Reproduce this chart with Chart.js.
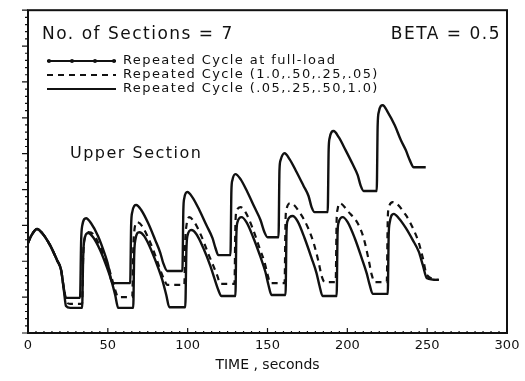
<!DOCTYPE html>
<html>
<head>
<meta charset="utf-8">
<script src="https://cdn.jsdelivr.net/npm/chart.js@4.4.1/dist/chart.umd.min.js"></script>
<style>
  html, body { margin: 0; padding: 0; background: #fff; }
  #wrap { width: 525px; height: 381px; }
</style>
</head>
<body>
<div id="wrap"><canvas id="chart"></canvas></div>
<script>
// time (s), value (y axis: 9 major divisions, labels cut off in the scan)
const fullLoad = [
  [0,2.51],[1.9,2.70],[5.6,2.90],[8.8,2.79],[13.8,2.45],[18.2,2.03],[20.7,1.76],[22.6,1.20],[23.8,0.98],[32.6,0.98],
  [33.3,2.59],[33.9,2.98],[36.4,3.20],[39.5,3.06],[43.9,2.70],[48.3,2.17],[50.2,1.89],[52.1,1.48],[53.3,1.39],[64.0,1.39],
  [64.6,3.01],[65.3,3.37],[67.8,3.57],[70.9,3.43],[75.3,3.06],[79.7,2.59],[82.9,2.23],[84.7,1.95],[87.2,1.73],[96.7,1.73],
  [97.3,3.43],[97.9,3.76],[99.8,3.93],[102.9,3.79],[107.3,3.43],[111.7,3.01],[115.5,2.65],[117.4,2.37],[119.2,2.17],[126.8,2.17],
  [127.4,3.98],[128.0,4.26],[129.9,4.43],[133.1,4.29],[137.4,3.93],[141.8,3.51],[145.6,3.15],[148.1,2.81],[150.0,2.67],[156.9,2.67],
  [157.5,4.54],[158.2,4.82],[160.7,5.01],[163.8,4.85],[168.2,4.49],[172.6,4.10],[175.7,3.82],[177.6,3.51],[179.5,3.37],[187.7,3.37],
  [188.3,5.10],[188.9,5.43],[191.4,5.63],[194.6,5.46],[198.9,5.10],[203.3,4.71],[206.5,4.40],[208.4,4.10],[210.2,3.96],[218.4,3.96],
  [219.0,5.79],[219.7,6.16],[222.2,6.35],[225.3,6.16],[229.7,5.79],[233.5,5.38],[236.6,5.10],[239.1,4.82],[241.6,4.62],[249.1,4.62]
];
const cycleDown = [
  [0,2.51],[1.9,2.70],[5.6,2.90],[8.8,2.79],[13.8,2.45],[18.2,2.03],[20.7,1.76],[22.6,1.20],[23.8,0.90],[26.4,0.81],[33.9,0.81],
  [34.5,2.03],[35.1,2.54],[37.7,2.81],[40.8,2.76],[45.2,2.40],[49.6,1.95],[52.1,1.59],[54.6,1.20],[56.5,1.00],[65.3,1.00],
  [65.9,2.31],[66.5,2.81],[68.4,3.09],[71.5,2.98],[75.9,2.59],[80.3,2.09],[82.8,1.76],[85.4,1.48],[87.2,1.34],[97.9,1.34],
  [98.5,2.59],[99.2,2.98],[101.0,3.23],[104.2,3.09],[108.6,2.70],[113.0,2.20],[116.1,1.87],[118.6,1.59],[120.5,1.37],[129.3,1.37],
  [129.9,3.01],[130.5,3.37],[133.1,3.51],[136.2,3.37],[140.6,2.93],[145.0,2.37],[148.1,1.98],[150.0,1.64],[151.9,1.39],[160.7,1.39],
  [161.3,3.15],[161.9,3.45],[164.4,3.62],[170.7,3.32],[175.7,2.90],[178.9,2.51],[182.0,1.98],[183.9,1.59],[185.8,1.42],[192.7,1.42],
  [193.3,3.15],[193.9,3.45],[195.2,3.62],[200.8,3.37],[206.5,3.06],[210.2,2.65],[213.4,2.03],[215.3,1.62],[217.2,1.42],[224.7,1.42],
  [225.3,3.15],[225.9,3.48],[228.5,3.65],[236.6,3.29],[241.6,2.87],[244.8,2.51],[247.3,2.09],[249.8,1.62],[257.3,1.48]
];
const cycleUp = [
  [0,2.51],[1.9,2.70],[5.6,2.90],[8.8,2.79],[13.8,2.45],[18.2,2.03],[20.7,1.76],[22.6,1.14],[23.8,0.75],[26.4,0.70],[33.9,0.70],
  [34.5,2.03],[35.1,2.54],[37.7,2.79],[40.8,2.67],[45.2,2.31],[49.6,1.81],[52.1,1.48],[54.6,1.06],[56.5,0.70],[65.9,0.70],
  [66.5,2.17],[67.2,2.59],[69.7,2.81],[72.8,2.70],[77.2,2.31],[81.6,1.81],[84.1,1.48],[86.6,1.06],[88.5,0.72],[98.5,0.72],
  [99.2,2.31],[99.8,2.70],[102.3,2.87],[105.4,2.76],[109.8,2.37],[114.2,1.87],[116.7,1.53],[119.2,1.20],[121.1,1.03],[129.9,1.03],
  [130.5,2.73],[131.2,3.09],[133.7,3.23],[136.8,3.09],[141.2,2.65],[145.6,2.12],[148.7,1.70],[150.6,1.34],[152.5,1.06],[161.3,1.06],
  [161.9,2.81],[162.5,3.12],[165.7,3.26],[168.8,3.12],[173.2,2.65],[177.6,2.09],[180.7,1.67],[182.6,1.31],[184.5,1.03],[193.3,1.03],
  [193.9,2.81],[194.6,3.09],[197.1,3.23],[200.2,3.09],[204.6,2.65],[209.0,2.09],[212.1,1.67],[214.0,1.34],[215.9,1.09],[225.3,1.09],
  [225.9,2.73],[226.6,3.09],[229.1,3.32],[232.2,3.20],[236.6,2.93],[241.0,2.59],[244.8,2.26],[247.3,1.89],[249.8,1.53],[257.3,1.48]
];
const legendLabels = ['Repeated Cycle at full-load', 'Repeated Cycle (1.0,.50,.25,.05)', 'Repeated Cycle (.05,.25,.50,1.0)'];
const xTicks = [0, 50, 100, 150, 200, 250, 300];

const toXY = arr => arr.map(p => ({ x: p[0], y: p[1] }));
const ink = '#111';

// frame, minor ticks, legend and notes drawn on the canvas
const paperPlugin = {
  id: 'paper',
  afterDraw(chart) {
    const ctx = chart.ctx;
    const a = chart.chartArea;
    const xs = chart.scales.x, ys = chart.scales.y;
    ctx.save();
    ctx.strokeStyle = ink;
    ctx.lineWidth = 2;
    ctx.strokeRect(a.left, a.top, a.right - a.left, a.bottom - a.top);

    ctx.lineWidth = 1.2;
    ctx.beginPath();
    for (let v = 0; v <= 9.001; v += 0.2) {
      const y = ys.getPixelForValue(v);
      const major = Math.abs(v - Math.round(v)) < 0.01;
      ctx.moveTo(a.left, y);
      ctx.lineTo(a.left - (major ? 6 : 3), y);
    }
    for (let t = 0; t <= 300; t += 5) {
      const x = xs.getPixelForValue(t);
      ctx.moveTo(x, a.bottom);
      ctx.lineTo(x, a.bottom - (t % 50 === 0 ? 5 : 2));
    }
    ctx.stroke();

    ctx.fillStyle = ink;
    ctx.textBaseline = 'middle';
    ctx.font = '17px "DejaVu Sans"';
    ctx.letterSpacing = '1.5px';
    ctx.textAlign = 'left';
    ctx.fillText('No. of Sections = 7', 42, 35);
    ctx.textAlign = 'right';
    ctx.fillText('BETA = 0.5', 501, 35);
    ctx.textAlign = 'left';
    ctx.font = '16px "DejaVu Sans"';
    ctx.fillText('Upper Section', 70, 154);

    ctx.font = '13px "DejaVu Sans"';
    ctx.letterSpacing = '1.4px';
    const rows = [61, 75, 89];
    chart.data.datasets.forEach((ds, i) => {
      const y = rows[i];
      ctx.strokeStyle = ds.borderColor;
      ctx.lineWidth = 2;
      ctx.setLineDash(ds.borderDash || []);
      ctx.beginPath();
      ctx.moveTo(47, y);
      ctx.lineTo(116, y);
      ctx.stroke();
      ctx.setLineDash([]);
      if (i === 0) {
        [49, 72, 95, 114].forEach(px => {
          ctx.beginPath();
          ctx.arc(px, y, 2, 0, Math.PI * 2);
          ctx.fill();
        });
      }
      ctx.fillText(ds.label, 123, y);
    });
    ctx.restore();
  }
};

new Chart(document.getElementById('chart'), {
  type: 'line',
  data: {
    datasets: [
      { label: legendLabels[0], data: toXY(fullLoad), borderColor: ink, borderWidth: 2.4, pointRadius: 0, cubicInterpolationMode: 'monotone' },
      { label: legendLabels[1], data: toXY(cycleDown), borderColor: ink, borderWidth: 2.2, borderDash: [6, 5], pointRadius: 0, cubicInterpolationMode: 'monotone' },
      { label: legendLabels[2], data: toXY(cycleUp), borderColor: ink, borderWidth: 2.4, pointRadius: 0, cubicInterpolationMode: 'monotone' }
    ]
  },
  options: {
    responsive: true,
    maintainAspectRatio: false,
    animation: false,
    layout: { padding: { top: 10, right: 18, left: 0, bottom: 0 } },
    scales: {
      x: {
        type: 'linear',
        min: 0,
        max: 300,
        afterBuildTicks: scale => { scale.ticks = xTicks.map(v => ({ value: v })); },
        afterFit: scale => { scale.height = 48; },
        grid: { display: false },
        border: { display: false },
        ticks: { color: ink, font: { family: 'DejaVu Sans', size: 13 }, padding: -3, maxRotation: 0 },
        title: { display: true, text: 'TIME , seconds', color: ink, font: { family: 'DejaVu Sans', size: 14 }, padding: { top: 0, bottom: 7 } }
      },
      y: {
        min: 0,
        max: 9,
        afterFit: scale => { scale.width = 28; },
        grid: { display: false },
        border: { display: false },
        ticks: { stepSize: 1, callback: () => '' }
      }
    },
    plugins: {
      legend: { display: false },
      tooltip: { enabled: false }
    }
  },
  plugins: [paperPlugin]
});
</script>
</body>
</html>
